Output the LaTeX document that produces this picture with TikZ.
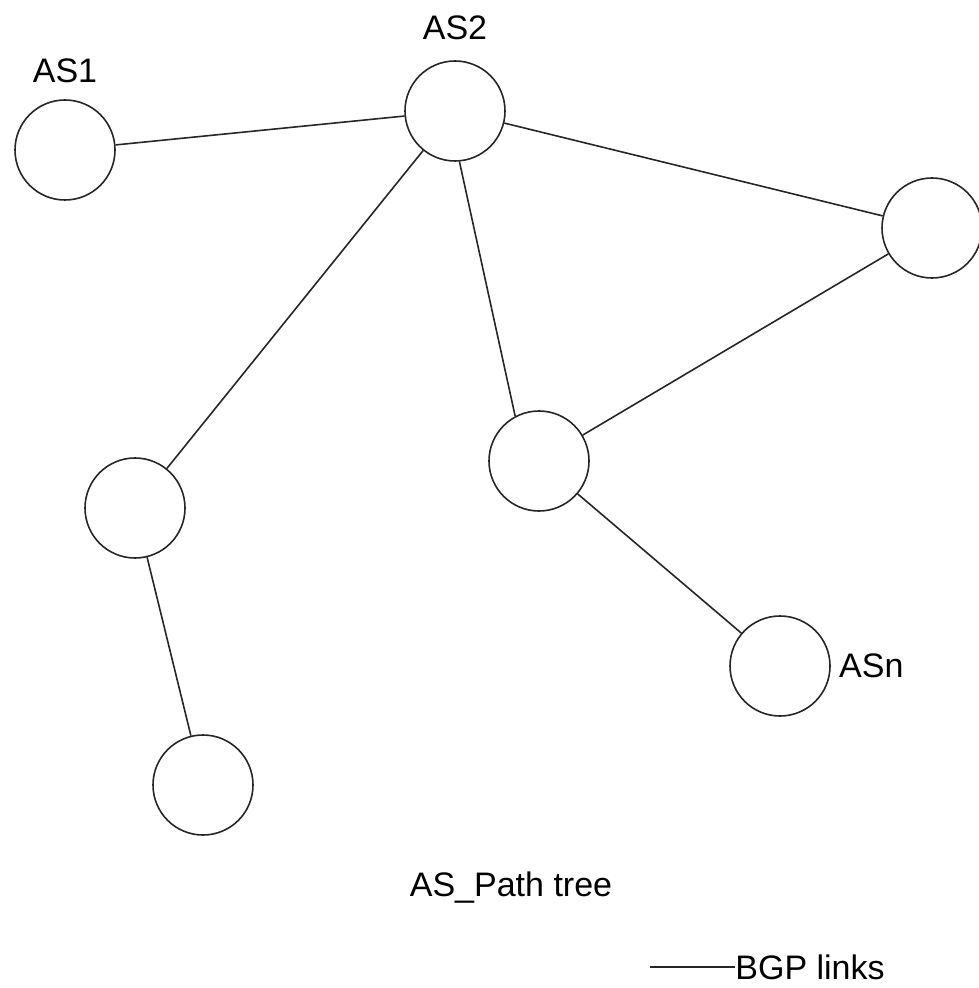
\documentclass[tikz,border=0pt]{standalone}
\usepackage{fontspec}
\setmainfont{Liberation Sans}
\usetikzlibrary{positioning}

\begin{document}
\begin{tikzpicture}[
  x=0.5pt, y=-0.5pt,
  as/.style={draw=black!85, circle, minimum size=50pt, inner sep=0pt, line width=0.8pt},
  lbl/.style={inner sep=0pt, font=\fontsize{17}{20}\selectfont},
  link/.style={draw=black!85, line width=0.8pt}
]
\useasboundingbox (0,0) rectangle (978,988);
% autonomous systems
\node[as] (as1) at (65,150)  {};
\node[as] (as2) at (455,111) {};
\node[as] (asr) at (932,228) {};
\node[as] (asm) at (539,461) {};
\node[as] (asl) at (135,508) {};
\node[as] (asb) at (203,785) {};
\node[as] (asn) at (780,666) {};
% labels
\node[lbl, above=8pt of as1]  (l1) {AS1};
\node[lbl, above=10pt of as2] (l2) {AS2};
\node[lbl, right=4pt of asn]  (ln) {ASn};
\node[lbl] (title) at (511,888) {AS\_Path tree};
% BGP links
\draw[link] (as1) -- (as2);
\draw[link] (as2) -- (asr);
\draw[link] (as2.275) -- (asm.118);
\draw[link] (as2) -- (asl);
\draw[link] (asr) -- (asm);
\draw[link] (asm) -- (asn);
\draw[link] (asl) -- (asb);
% key
\node[lbl, anchor=west] (key) at (735,967) {BGP links};
\coordinate (keyend) at (650,967);
\draw[link] (keyend) -- (key);
\end{tikzpicture}
\end{document}
